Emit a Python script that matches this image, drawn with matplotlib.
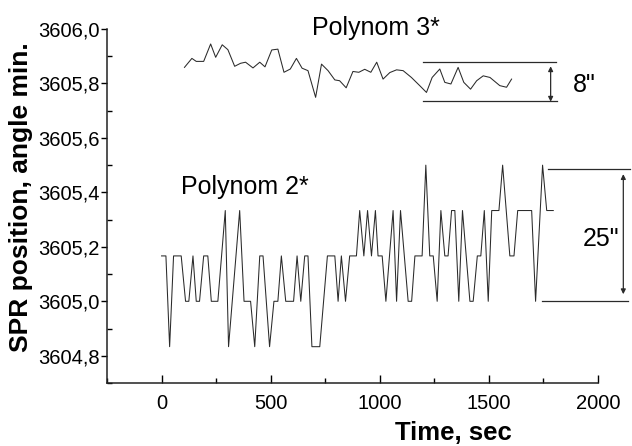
import matplotlib
matplotlib.use('Agg')
import matplotlib.pyplot as plt
from matplotlib.ticker import MultipleLocator, FuncFormatter

plt.rcParams['font.family'] = ['Liberation Sans', 'DejaVu Sans']

# Polynom 2* (quantized in 1/6 angle min. steps)
t2 = [0, 20, 37, 55, 90, 110, 125, 144, 159, 174, 193, 212, 228, 258, 292, 307,
      358, 378, 408, 427, 450, 465, 495, 515, 533, 549, 569, 605, 621, 638, 656,
      671, 689, 725, 760, 794, 809, 824, 843, 862, 893, 908, 927, 944, 962, 980,
      992, 1011, 1028, 1061, 1077, 1095, 1130, 1146, 1161, 1194, 1211, 1229,
      1245, 1263, 1280, 1298, 1313, 1329, 1344, 1362, 1379, 1413, 1428, 1447,
      1463, 1479, 1497, 1513, 1546, 1563, 1596, 1615, 1632, 1696, 1714, 1746,
      1765, 1795]
lev2 = [2, 2, 0, 2, 2, 1, 1, 2, 1, 1, 2, 2, 1, 1, 3, 0,
        3, 1, 1, 0, 2, 2, 0, 1, 1, 2, 1, 1, 2, 1, 2,
        2, 0, 0, 2, 2, 1, 2, 1, 2, 2, 3, 2, 3, 2, 3,
        2, 2, 1, 3, 1, 3, 1, 1, 2, 2, 4, 2,
        2, 1, 3, 2, 2, 3, 3, 1, 3, 1, 1, 2,
        2, 3, 1, 3, 3, 4, 2, 2, 3, 3, 1, 4,
        3, 3]
v2 = [3604.8333 + k / 6.0 for k in lev2]

# Polynom 3*
t3 = [105, 139, 159, 193, 225, 248, 278, 304, 335, 362, 385, 419, 450, 474,
      505, 533, 561, 590, 618, 644, 671, 706, 733, 763, 794, 816, 846, 877,
      904, 931, 959, 986, 1015, 1046, 1077, 1107, 1145, 1183, 1214, 1240,
      1275, 1298, 1326, 1359, 1385, 1416, 1444, 1474, 1505, 1550, 1581, 1604]
v3 = [3605.859, 3605.892, 3605.881, 3605.881, 3605.945, 3605.896, 3605.942,
      3605.924, 3605.863, 3605.874, 3605.878, 3605.857, 3605.878, 3605.861,
      3605.923, 3605.926, 3605.841, 3605.853, 3605.892, 3605.856, 3605.847,
      3605.749, 3605.871, 3605.847, 3605.813, 3605.810, 3605.784, 3605.844,
      3605.841, 3605.852, 3605.841, 3605.878, 3605.816, 3605.840, 3605.850,
      3605.847, 3605.822, 3605.792, 3605.767, 3605.822, 3605.853, 3605.804,
      3605.798, 3605.859, 3605.804, 3605.779, 3605.810, 3605.828, 3605.822,
      3605.792, 3605.786, 3605.816]

fig = plt.figure(figsize=(6.32, 4.46), dpi=100)
ax = fig.add_axes([0.1693, 0.1413, 0.7769, 0.7937])

lc = '#2a2a2a'
ax.plot(t2, v2, color=lc, lw=0.75)
ax.plot(t3, v3, color=lc, lw=0.75)

ax.set_xlim(-250, 2000)
ax.set_ylim(3604.7, 3606.0)

for s in ['top', 'right']:
    ax.spines[s].set_visible(False)
for s in ['left', 'bottom']:
    ax.spines[s].set_linewidth(1.1)
    ax.spines[s].set_color('#222222')

ax.xaxis.set_major_locator(MultipleLocator(500))
ax.xaxis.set_minor_locator(MultipleLocator(250))
ax.yaxis.set_major_locator(MultipleLocator(0.2))
ax.yaxis.set_minor_locator(MultipleLocator(0.1))
ax.yaxis.set_major_formatter(FuncFormatter(lambda v, p: ('%.1f' % v).replace('.', ',')))

ax.tick_params(axis='x', which='major', direction='in', length=6, width=1.0, labelsize=14.5, pad=8)
ax.tick_params(axis='x', which='minor', direction='in', length=3.5, width=1.0)
ax.tick_params(axis='y', which='major', direction='out', length=4, width=1.0, labelsize=14.5, pad=1)
ax.tick_params(axis='y', which='minor', direction='in', length=3.5, width=1.0)

ax.set_xlabel('Time, sec', fontsize=18.5, fontweight='bold')
ax.set_ylabel('SPR position, angle min.', fontsize=19, fontweight='bold')
ax.xaxis.set_label_coords(0.705, -0.108)
ax.yaxis.set_label_coords(-0.151, 0.525)

# annotations
ax.text(688, 3605.978, 'Polynom 3*', fontsize=18, va='baseline', ha='left')
ax.text(90, 3605.393, 'Polynom 2*', fontsize=18, va='baseline', ha='left')

ax.plot([1196, 1807], [3605.878, 3605.878], color=lc, lw=0.9, clip_on=False)
ax.plot([1196, 1812], [3605.737, 3605.737], color=lc, lw=0.9, clip_on=False)
ax.annotate('', xy=(1783, 3605.733), xytext=(1783, 3605.863),
            arrowprops=dict(arrowstyle='<|-|>', color=lc, lw=0.9,
                            mutation_scale=7, shrinkA=0, shrinkB=0),
            annotation_clip=False)
ax.text(1884, 3605.768, '8"', fontsize=18, va='baseline', ha='left')

ax.plot([1771, 2147], [3605.485, 3605.485], color=lc, lw=0.9, clip_on=False)
ax.plot([1742, 2138], [3605.0, 3605.0], color=lc, lw=0.9, clip_on=False)
ax.annotate('', xy=(2116, 3605.026), xytext=(2116, 3605.467),
            arrowprops=dict(arrowstyle='<|-|>', color=lc, lw=0.9,
                            mutation_scale=7, shrinkA=0, shrinkB=0),
            annotation_clip=False)
ax.text(1932, 3605.202, '25"', fontsize=18, va='baseline', ha='left')

fig.savefig('out.png', dpi=100)
